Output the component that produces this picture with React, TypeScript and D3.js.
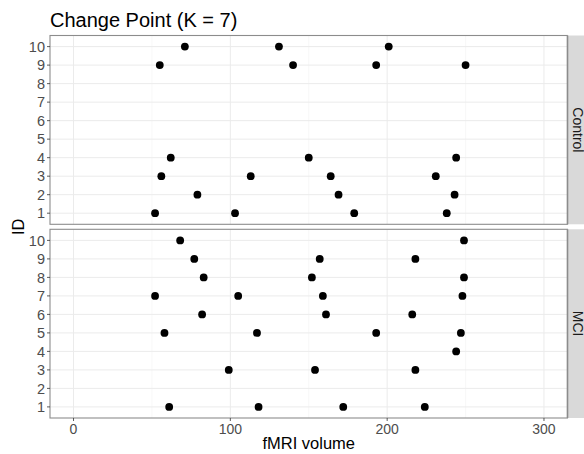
import React from 'react';
import * as d3 from 'd3';

// change point locations per subject ID
const controlIds = [10, 10, 10, 9, 9, 9, 9, 4, 4, 4, 3, 3, 3, 3, 2, 2, 2, 1, 1, 1, 1];
const controlVolumes = [71, 131, 201, 55, 140, 193, 250, 62, 150, 244, 56, 113, 164, 231, 79, 169, 243, 52, 103, 179, 238];

const mciIds = [10, 10, 9, 9, 9, 8, 8, 8, 7, 7, 7, 7, 6, 6, 6, 5, 5, 5, 5, 4, 3, 3, 3, 1, 1, 1, 1];
const mciVolumes = [68, 249, 77, 157, 218, 83, 152, 249, 52, 105, 159, 248, 82, 161, 216, 58, 117, 193, 247, 244, 99, 154, 218, 61, 118, 172, 224];

const idLevels = ['1', '2', '3', '4', '5', '6', '7', '8', '9', '10'];
const xTicks = [0, 100, 200, 300];
const xMinor = [50, 150, 250];

const panels = [
  { label: 'Control', ids: controlIds, vols: controlVolumes, top: 35.5, bottom: 224.3 },
  { label: 'MCI', ids: mciIds, vols: mciVolumes, top: 229.3, bottom: 418 },
];

const font = '"Liberation Sans", Arial, sans-serif';

const App = () => {
  const width = 584, height = 454;
  const left = 50, right = 567.5;
  const stripW = 17;

  const x = d3.scaleLinear().domain([-15, 315]).range([left, right]);

  return (
    <svg width={width} height={height} style={{ position: 'absolute', left: 0, top: 0, fontFamily: font }}>
      <rect width={width} height={height} fill="#fff" />
      <text x={50} y={27} fontSize={20} fill="#000">Change Point (K = 7)</text>

      {panels.map((p) => {
        const y = d3.scalePoint<string>().domain(idLevels).range([p.bottom, p.top]).padding(0.6);
        return (
          <g key={p.label}>
            {/* grid */}
            {xMinor.map((t) => (
              <line key={'m' + t} x1={x(t)} x2={x(t)} y1={p.top} y2={p.bottom} stroke="#F4F4F4" strokeWidth={0.6} />
            ))}
            {xTicks.map((t) => (
              <line key={'M' + t} x1={x(t)} x2={x(t)} y1={p.top} y2={p.bottom} stroke="#EBEBEB" strokeWidth={1} />
            ))}
            {idLevels.map((id) => (
              <line key={'h' + id} x1={left} x2={right} y1={y(id)} y2={y(id)} stroke="#EBEBEB" strokeWidth={1} />
            ))}
            {/* points */}
            {p.vols.map((v, i) => (
              <circle key={i} cx={x(v)} cy={y(String(p.ids[i]))} r={3.9} fill="#000" />
            ))}
            {/* panel border */}
            <rect x={left} y={p.top} width={right - left} height={p.bottom - p.top} fill="none" stroke="#8C8C8C" strokeWidth={1.1} />
            {/* strip */}
            <rect x={right} y={p.top} width={stripW} height={p.bottom - p.top} fill="#D9D9D9" />
            <line x1={right} x2={right} y1={p.top} y2={p.bottom} stroke="#8C8C8C" strokeWidth={1.6} />
            <text
              transform={`translate(${right + 5},${(p.top + p.bottom) / 2}) rotate(90)`}
              textAnchor="middle"
              fontSize={14}
              fill="#1A1A1A"
            >
              {p.label}
            </text>
            {/* y axis */}
            {idLevels.map((id) => (
              <g key={'t' + id}>
                <line x1={left - 3} x2={left} y1={y(id)} y2={y(id)} stroke="#333" strokeWidth={0.8} />
                <text x={left - 5} y={y(id)} dy="0.36em" textAnchor="end" fontSize={14.5} fill="#4D4D4D">{id}</text>
              </g>
            ))}
          </g>
        );
      })}

      {/* x axis */}
      {xTicks.map((t) => (
        <g key={'xt' + t}>
          <line x1={x(t)} x2={x(t)} y1={418} y2={421} stroke="#333" strokeWidth={0.8} />
          <text x={x(t)} y={434} textAnchor="middle" fontSize={14} fill="#4D4D4D">{t}</text>
        </g>
      ))}
      <text x={(left + right) / 2} y={449} textAnchor="middle" fontSize={16.5} fill="#000">fMRI volume</text>
      <text transform={`translate(24,${(35.5 + 418) / 2}) rotate(-90)`} textAnchor="middle" fontSize={16.5} fill="#000">ID</text>
    </svg>
  );
};

export default App;
